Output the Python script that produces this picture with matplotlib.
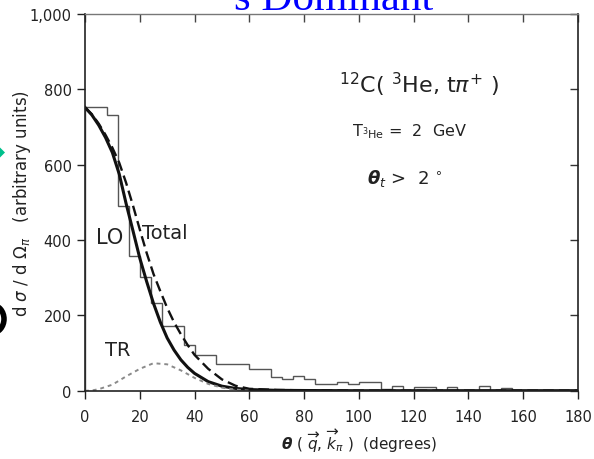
import numpy as np
import matplotlib
matplotlib.use("Agg")
from matplotlib import pyplot as plt
from matplotlib.patches import Polygon, Ellipse

# histogram, 4 degree bins from 0 to 180
bin_edges = np.arange(0, 184, 4)
hist_counts = [752, 752, 731, 489, 358, 302, 233, 173, 173, 120,
               94, 94, 71, 71, 71, 58, 58, 36, 31, 40,
               31, 18, 18, 24, 18, 24, 24, 4, 13, 2,
               9, 9, 3, 11, 3, 3, 12, 2, 8, 2,
               1, 1, 1, 1, 1]

# LO (solid) and Total (dashed) curves
curve_angle = [0, 2.5, 5, 7.5, 10, 12.5, 15, 17.5, 20, 22.5, 25, 27.5, 30,
               32.5, 35, 37.5, 40, 45, 50, 55, 60, 70, 80, 100, 140, 180]
lo_value = [752, 732, 705, 672, 632, 575, 497, 425, 352, 290, 232, 182, 140,
            108, 82, 62, 46, 24, 12, 6, 3, 1, 0.5, 0, 0, 0]
total_value = [752, 734, 709, 679, 645, 605, 552, 492, 428, 366, 310, 264, 220,
               182, 150, 121, 95, 58, 30, 13, 5, 2, 1, 0, 0, 0]

# TR (dotted) curve
tr_angle = [0, 2, 5, 10, 15, 20, 25, 30, 35, 40, 45, 50, 55, 60]
tr_value = [0, 0, 4, 16, 38, 58, 73, 70, 54, 34, 18, 8, 3, 0]

x_ticks = [0, 20, 40, 60, 80, 100, 120, 140, 160, 180]
y_ticks = [0, 200, 400, 600, 800, 1000]
y_tick_labels = ['0', '200', '400', '600', '800', '1,000']

plt.rcParams['font.family'] = 'DejaVu Sans'
plt.rcParams['mathtext.fontset'] = 'dejavusans'

W, H = 594, 460
fig = plt.figure(figsize=(W / 100, H / 100), dpi=100)
ax = fig.add_axes([85 / W, 1 - 391.7 / H, 493 / W, 376.7 / H])

ax.stairs(hist_counts, bin_edges, color='#555555', linewidth=1.0)
ax.plot(curve_angle, lo_value, color='#111111', linewidth=2.2)
ax.plot(curve_angle, total_value, color='#111111', linewidth=1.7, dashes=(4.5, 2.2))
ax.plot(tr_angle, tr_value, color='#8a8a8a', linewidth=1.4, dashes=(2, 2))

ax.set_xlim(0, 180)
ax.set_ylim(0, 1000)
ax.set_xticks(x_ticks)
ax.set_yticks(y_ticks)
ax.set_yticklabels(y_tick_labels)
ax.tick_params(direction='out', length=6, width=1.0, labelsize=10.5, colors='#222222')
ax.tick_params(axis='x', pad=7)
for side in ['left', 'bottom', 'right']:
    ax.spines[side].set_linewidth(1.2)
    ax.spines[side].set_color('#222222')
ax.spines['top'].set_linewidth(1.0)
ax.spines['top'].set_color('#777777')

top = ax.secondary_xaxis('top')
top.set_xticks(x_ticks)
top.tick_params(direction='in', length=6, width=1.0, labeltop=False, colors='#444444')
top.spines['top'].set_visible(False)
right = ax.secondary_yaxis('right')
right.set_yticks(y_ticks)
right.tick_params(direction='in', length=6, width=1.0, labelright=False, colors='#333333')
right.spines['right'].set_visible(False)

ax.set_ylabel(r'd $\sigma$ / d $\Omega_{\pi}$   (arbitrary units)', fontsize=12, color='#222222')
ax.yaxis.set_label_coords(-0.105, 0.5)
ax.set_xlabel(r'$\boldsymbol{\theta}$ ( $\overrightarrow{q}$, $\overrightarrow{k}_{\pi}$ )  (degrees)',
              fontsize=11, color='#222222')
ax.xaxis.set_label_coords(0.556, -0.097)

ax.text(9.1, 408, 'LO', fontsize=15, ha='center', va='center', color='#222222')
ax.text(29.3, 421, 'Total', fontsize=14, ha='center', va='center', color='#222222')
ax.text(12, 109, 'TR', fontsize=14, ha='center', va='center', color='#222222')

ax.text(92.7, 815, r'$^{12}$C( $^{3}$He, t$\pi^{+}$ )', fontsize=16, ha='left', va='center', color='#222222')
ax.text(97.5, 690, r'T$_{^{3}\mathrm{He}}$ =  2  GeV', fontsize=11.5, ha='left', va='center', color='#222222')
ax.text(103, 565, r'$\boldsymbol{\theta}_{t}$ >  2 $^{\circ}$', fontsize=13, ha='left', va='center', color='#222222')

# bits of the slide around the scanned figure
fig.text(234 / W, 1 - 10.5 / H, 's Dominant', family='Liberation Serif',
         fontsize=31, color='#0000ff', ha='left', va='baseline')
diamond = [(5, 153.5), (-3.5, 145), (-12, 153.5), (-3.5, 162)]
fig.add_artist(Polygon([(x / W, 1 - y / H) for x, y in diamond], closed=True,
                       facecolor='#00c08c', edgecolor='none', transform=fig.transFigure))
fig.add_artist(Ellipse((-8 / W, 1 - 320 / H), 24 / W, 28 / H, facecolor='none',
                       edgecolor='black', linewidth=4, transform=fig.transFigure))

fig.savefig('out.png', dpi=100)
